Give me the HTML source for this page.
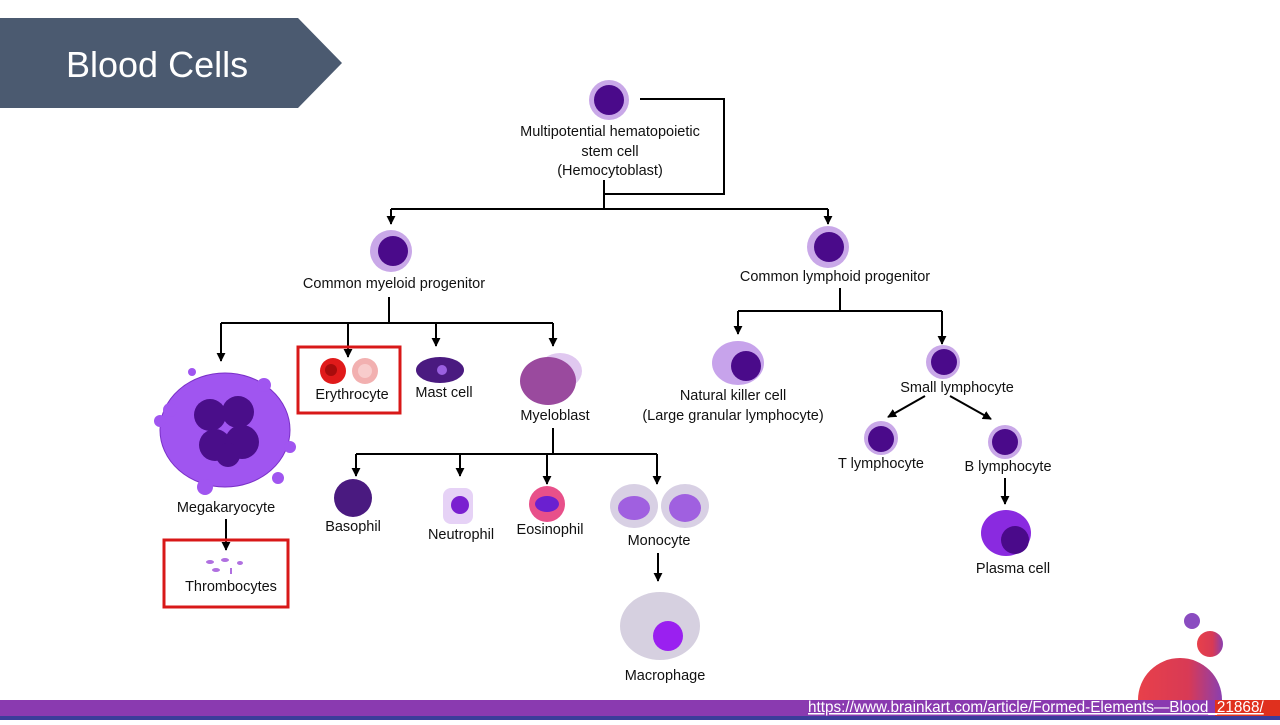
<!DOCTYPE html>
<html><head><meta charset="utf-8"><style>
body{margin:0;width:1280px;height:720px;overflow:hidden;background:#fff;font-family:"Liberation Sans",Arial,sans-serif}
svg text{font-family:"Liberation Sans",Arial,sans-serif;font-size:14.5px;fill:#111}
</style></head><body>
<svg width="1280" height="720" viewBox="0 0 1280 720" xmlns="http://www.w3.org/2000/svg">
<defs>
<marker id="b" viewBox="0 0 10 10" refX="9" refY="5" markerWidth="9" markerHeight="9" orient="auto" markerUnits="userSpaceOnUse"><path d="M0,0L10,5L0,10z" fill="#000"/></marker>
<linearGradient id="rg" x1="0" y1="0" x2="1" y2="0"><stop offset="0" stop-color="#e8404a"/><stop offset="0.6" stop-color="#d83a55"/><stop offset="1" stop-color="#8a3fb0"/></linearGradient>
</defs>
<path d="M0,18 H298 L342,63 L298,108 H0Z" fill="#4b5a70"/>
<text x="66" y="77" style="font-size:36px;fill:#fff">Blood Cells</text>
<circle cx="1180" cy="700" r="42" fill="url(#rg)"/>
<circle cx="1210" cy="644" r="13" fill="url(#rg)"/>
<circle cx="1192" cy="621" r="8" fill="#8a4cc0"/>
<rect x="0" y="700" width="1280" height="17" fill="#8a3ab0"/>
<rect x="1215" y="700" width="65" height="17" fill="#e0301e"/>
<rect x="0" y="716" width="1280" height="4" fill="#3b3d9a"/>
<text x="808" y="712" style="font-size:15.3px;fill:#fff;text-decoration:underline">https://www.brainkart.com/article/Formed-Elements—Blood_21868/</text>
<g stroke="#000" stroke-width="2" fill="none">
<path d="M640,99 H724 V194 H604 V180"/>
<path d="M604,194 V209"/>
<path d="M391,209 H828"/>
<path d="M391,209 V224" marker-end="url(#b)"/>
<path d="M828,209 V224" marker-end="url(#b)"/>
<path d="M389,297 V323"/>
<path d="M221,323 H553"/>
<path d="M221,323 V361" marker-end="url(#b)"/>
<path d="M348,323 V357" marker-end="url(#b)"/>
<path d="M436,323 V346" marker-end="url(#b)"/>
<path d="M553,323 V346" marker-end="url(#b)"/>
<path d="M553,428 V454"/>
<path d="M356,454 H657"/>
<path d="M356,454 V476" marker-end="url(#b)"/>
<path d="M460,454 V476" marker-end="url(#b)"/>
<path d="M547,454 V484" marker-end="url(#b)"/>
<path d="M657,454 V484" marker-end="url(#b)"/>
<path d="M226,519 V550" marker-end="url(#b)"/>
<path d="M658,553 V581" marker-end="url(#b)"/>
<path d="M840,288 V311"/>
<path d="M738,311 H942"/>
<path d="M738,311 V334" marker-end="url(#b)"/>
<path d="M942,311 V344" marker-end="url(#b)"/>
<path d="M925,396 L888,417" marker-end="url(#b)"/>
<path d="M950,396 L991,419" marker-end="url(#b)"/>
<path d="M1005,478 V504" marker-end="url(#b)"/>
</g>
<rect x="298" y="347" width="102" height="66" fill="none" stroke="#d81818" stroke-width="3"/>
<rect x="164" y="540" width="124" height="67" fill="none" stroke="#d81818" stroke-width="3"/>
<circle cx="609" cy="100" r="20" fill="#c9a8e8"/><circle cx="609" cy="100" r="15" fill="#4a0a8a"/>
<circle cx="391" cy="251" r="21" fill="#c9a8e8"/><circle cx="393" cy="251" r="15" fill="#4a0a8a"/>
<circle cx="828" cy="247" r="21" fill="#c9a8e8"/><circle cx="829" cy="247" r="15" fill="#4a0a8a"/>
<ellipse cx="225" cy="430" rx="65" ry="57" fill="#a055f0" stroke="#7a30c8"/>
<g fill="#a055f0"><circle cx="170" cy="410" r="7"/><circle cx="264" cy="385" r="7"/><circle cx="290" cy="447" r="6"/><circle cx="205" cy="487" r="8"/><circle cx="278" cy="478" r="6"/><circle cx="160" cy="421" r="6"/><circle cx="192" cy="372" r="4"/></g>
<g fill="#4a0e8a"><circle cx="210" cy="415" r="16"/><circle cx="238" cy="412" r="16"/><circle cx="215" cy="445" r="16"/><circle cx="242" cy="442" r="17"/><circle cx="228" cy="455" r="12"/></g>
<circle cx="333" cy="371" r="13" fill="#e01a1a"/><circle cx="331" cy="370" r="6" fill="#a80c0c"/>
<circle cx="365" cy="371" r="13" fill="#f2b0b0"/><circle cx="365" cy="371" r="7" fill="#f8cccc"/>
<ellipse cx="440" cy="370" rx="24" ry="13" fill="#4a1a80"/><circle cx="442" cy="370" r="5" fill="#9a60e0"/>
<ellipse cx="560" cy="371" rx="22" ry="18" fill="#e0c8f0"/><ellipse cx="548" cy="381" rx="28" ry="24" fill="#9a4a9e"/>
<ellipse cx="738" cy="363" rx="26" ry="22" fill="#c7a3eb"/><circle cx="746" cy="366" r="15" fill="#4a0a8a"/>
<circle cx="943" cy="362" r="17" fill="#c9a8e8"/><circle cx="944" cy="362" r="13" fill="#4a0a8a"/>
<circle cx="881" cy="438" r="17" fill="#c9a8e8"/><circle cx="881" cy="439" r="13" fill="#4a0a8a"/>
<circle cx="1005" cy="442" r="17" fill="#c9a8e8"/><circle cx="1005" cy="442" r="13" fill="#4a0a8a"/>
<ellipse cx="1006" cy="533" rx="25" ry="23" fill="#8a2ae0"/><circle cx="1015" cy="540" r="14" fill="#4a0a8a"/>
<circle cx="353" cy="498" r="19" fill="#4a1a80"/>
<rect x="443" y="488" width="30" height="36" rx="8" fill="#e6d2f6"/><circle cx="460" cy="505" r="9" fill="#7a20d0"/>
<circle cx="547" cy="504" r="18" fill="#e8508a"/><ellipse cx="547" cy="504" rx="12" ry="8" fill="#6a20d0"/>
<ellipse cx="634" cy="506" rx="24" ry="22" fill="#d8d0e4"/><ellipse cx="634" cy="508" rx="16" ry="12" fill="#a060e0"/>
<ellipse cx="685" cy="506" rx="24" ry="22" fill="#d8d0e4"/><ellipse cx="685" cy="508" rx="16" ry="14" fill="#a060e0"/>
<ellipse cx="660" cy="626" rx="40" ry="34" fill="#d6d0e0"/><circle cx="668" cy="636" r="15" fill="#9a20f0"/>
<g fill="#b070e0"><ellipse cx="210" cy="562" rx="4" ry="2"/><ellipse cx="225" cy="560" rx="4" ry="2"/><ellipse cx="240" cy="563" rx="3" ry="2"/><ellipse cx="216" cy="570" rx="4" ry="2"/><rect x="230" y="568" width="2" height="6"/></g>
<g text-anchor="middle">
<text x="610" y="136">Multipotential hematopoietic</text>
<text x="610" y="156">stem cell</text>
<text x="610" y="175">(Hemocytoblast)</text>
<text x="394" y="288">Common myeloid progenitor</text>
<text x="835" y="281">Common lymphoid progenitor</text>
<text x="352" y="399">Erythrocyte</text>
<text x="444" y="397">Mast cell</text>
<text x="555" y="420">Myeloblast</text>
<text x="733" y="400">Natural killer cell</text>
<text x="733" y="420">(Large granular lymphocyte)</text>
<text x="957" y="392">Small lymphocyte</text>
<text x="881" y="468">T lymphocyte</text>
<text x="1008" y="471">B lymphocyte</text>
<text x="226" y="512">Megakaryocyte</text>
<text x="353" y="531">Basophil</text>
<text x="461" y="539">Neutrophil</text>
<text x="550" y="534">Eosinophil</text>
<text x="659" y="545">Monocyte</text>
<text x="231" y="591">Thrombocytes</text>
<text x="1013" y="573">Plasma cell</text>
<text x="665" y="680">Macrophage</text>
</g>
</svg>
</body></html>
